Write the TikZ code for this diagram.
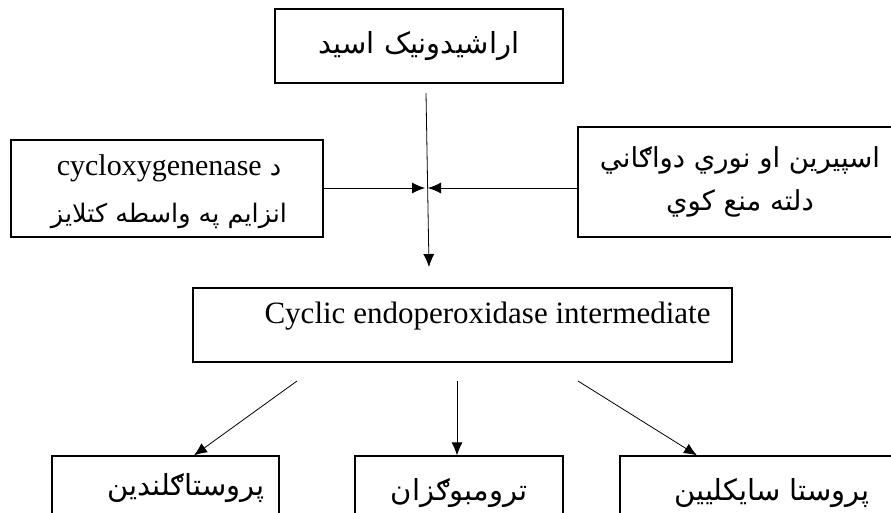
\documentclass[tikz,border=0pt]{standalone}
\usepackage{fontspec}
\setmainfont{Liberation Serif}
\newfontfamily\arabicfont[Script=Arabic]{DejaVu Sans}
\TeXXeTstate=1
\usetikzlibrary{arrows.meta}
\newcommand\latintext{\rmfamily\fontsize{30}{36}\selectfont}

\tikzset{
  box/.style={draw, line width=1.2pt, rectangle, inner sep=0pt},
  pashto/.style={font=\arabicfont\fontsize{29}{45}\selectfont, align=center},
  latin/.style={font=\fontsize{31}{36}\selectfont},
  arr/.style={line width=0.8pt, -{Latex[length=13pt,width=11pt]}}
}

\begin{document}
\begin{tikzpicture}[x=1pt,y=-1pt]
      \useasboundingbox (0,0) rectangle (891,512);
      % top box
      \node[box, pashto, minimum width=288pt, minimum height=74pt] (acid) at (419,46) {\beginR اراشیدونیک اسید\endR};
      % enzyme and inhibitor boxes
      \node[box, minimum width=312pt, minimum height=97pt] (cox) at (167,188.5) {};
      \node[pashto, font=\arabicfont\fontsize{25.5}{47}\selectfont] (coxtxt) at (169,192)
            {\beginR د {\latintext\beginL cycloxygenenase\endL}\endR\\ \beginR انزایم په واسطه کتلایز\endR};
      \node[box, pashto, font=\arabicfont\fontsize{27.5}{43}\selectfont, minimum width=324pt, minimum height=110pt] (asp) at (740,182)
            {\beginR اسپیرین او نوري دواګاني\endR\\ \beginR دلته منع کوي\endR};
      % intermediate
      \node[box, minimum width=539pt, minimum height=74pt] (inter) at (462.5,325) {};
      \node[latin, anchor=base] (intertxt) at (487.5,323) {Cyclic endoperoxidase intermediate};
      % products
      \node[box, minimum width=227pt, minimum height=74pt] (prost) at (165.5,493) {};
      \node[pashto] (prosttxt) at (186,488) {\beginR پروستاګلندین\endR};
      \node[box, pashto, minimum width=208pt, minimum height=74pt] (throm) at (459,493) {\beginR ترومبوګزان\endR};
      \node[box, pashto, minimum width=304pt, minimum height=74pt] (cycl) at (772,493) {\beginR پروستا سایکلیین\endR};

      \coordinate (vtop) at (426,93);
      \coordinate (vbot) at (429,267);
      \coordinate (meet) at (427,188);
      \draw[arr] (vtop) -- (vbot);
      \draw[arr] (cox.east |- meet) -- ([xshift=-2pt]meet);
      \draw[arr] (asp.west |- meet) -- ([xshift=1pt]meet);

      \coordinate (fromL) at (297,381);
      \coordinate (fromM) at (457,381);
      \coordinate (fromR) at (578,381);
      \draw[arr] (fromL) -- ([xshift=28.5pt]prost.north);
      \draw[arr] (fromM) -- ([xshift=-2pt]throm.north);
      \draw[arr] (fromR) -- ([xshift=-75pt]cycl.north);
\end{tikzpicture}
\end{document}
